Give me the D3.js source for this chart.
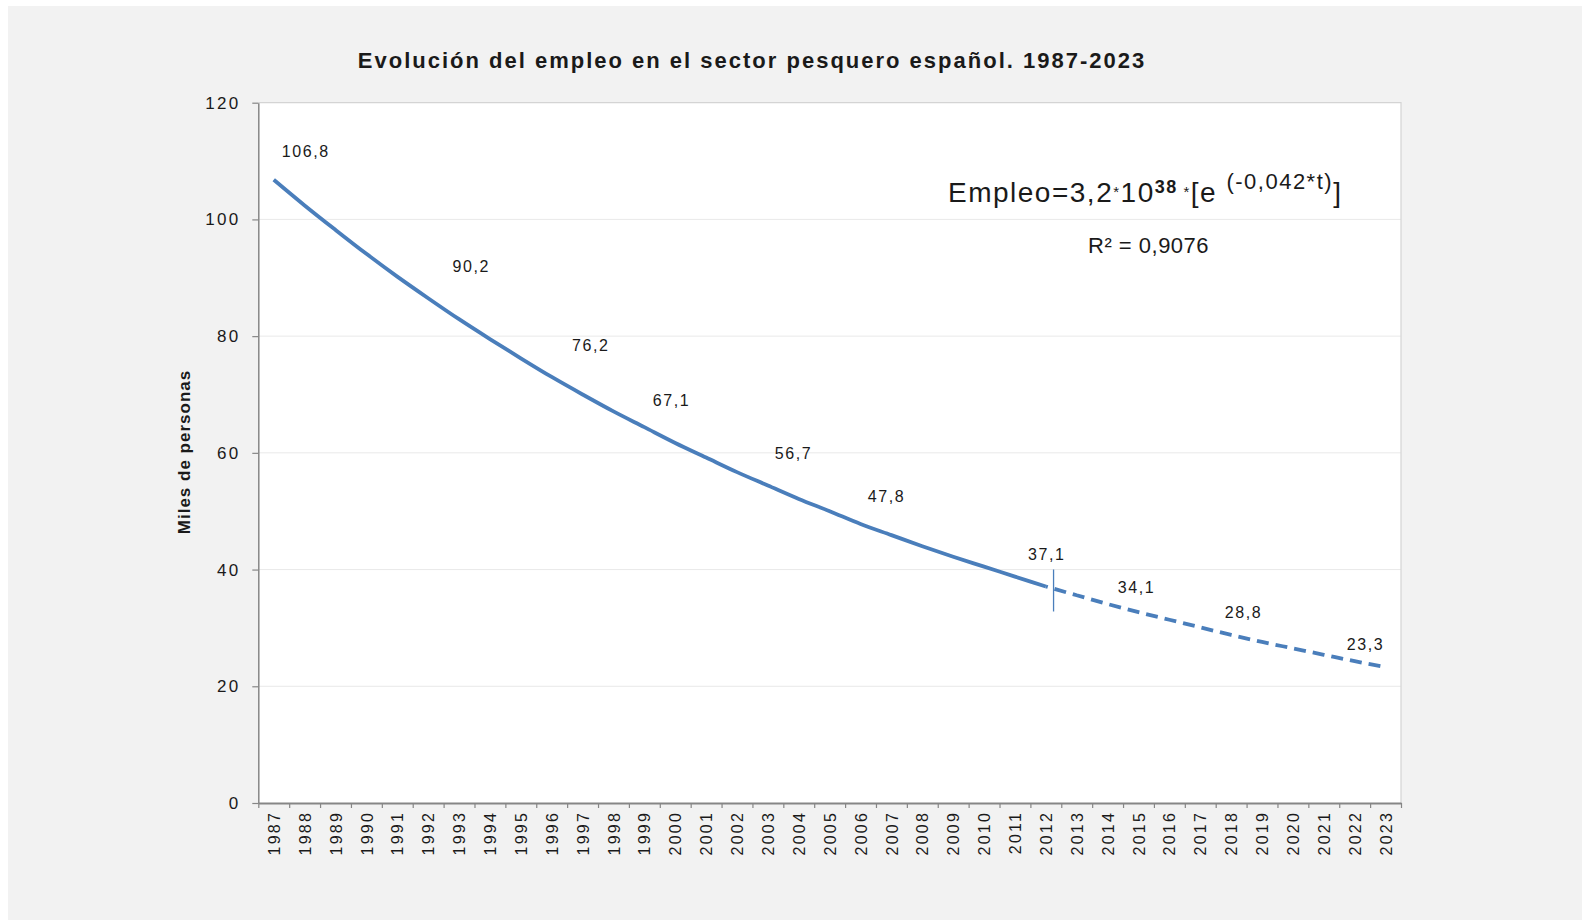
<!DOCTYPE html>
<html>
<head>
<meta charset="utf-8">
<script src="https://cdn.jsdelivr.net/npm/d3@7"></script>
<style>
  body { margin: 0; background: #fff; }
  svg text { font-family: "Liberation Sans", Arial, Helvetica, sans-serif; fill: #1a1a1a; }
</style>
</head>
<body>
<svg id="chart" width="1590" height="920"></svg>
<script>
// Data
const years = [1987, 1988, 1989, 1990, 1991, 1992, 1993, 1994, 1995, 1996, 1997, 1998, 1999,
  2000, 2001, 2002, 2003, 2004, 2005, 2006, 2007, 2008, 2009, 2010, 2011, 2012, 2013, 2014,
  2015, 2016, 2017, 2018, 2019, 2020, 2021, 2022, 2023];

// fitted employment curve (miles de personas)
const employment = [106.8, 102.4, 98.2, 94.1, 90.2, 86.5, 82.9, 79.5, 76.2, 73.0, 70.0, 67.1, 64.4,
  61.7, 59.2, 56.7, 54.4, 52.1, 50.0, 47.8, 45.9, 44.0, 42.2, 40.5, 38.8, 37.1, 35.6, 34.1,
  32.7, 31.4, 30.1, 28.8, 27.6, 26.5, 25.4, 24.3, 23.3];

const lastObservedYear = 2012;   // solid up to here, dashed projection after
const splitYear = 2012.25;       // where the small vertical marker sits

// labelled points
const labelYears = [1987, 1991, 1995, 1998, 2002, 2006, 2012, 2014, 2018, 2023];
const labelValues = [106.8, 90.2, 76.2, 67.1, 56.7, 47.8, 37.1, 34.1, 28.8, 23.3];

const yTicks = [0, 20, 40, 60, 80, 100, 120];

const titleText = "Evolución del empleo en el sector pesquero español. 1987-2023";
const yTitle = "Miles de personas";
const r2Text = "R² = 0,9076";

// Layout
const plotLeft = 258.3, plotRight = 1401, plotTop = 102.7, plotBottom = 803;
const blue = "#4a7ebb";
// label nudges (px) from their point, like Excel's hand-placed data labels
const labelNudge = [[32, -28], [74, -10], [70, -12.6], [58, -10.7], [56.6, -18.8],
  [26, -27.3], [1, -32.2], [29, -16.3], [12.4, -22.2], [-20, -23]];

const svg = d3.select("#chart");

// background panel
svg.append("rect")
  .attr("x", 8).attr("y", 6)
  .attr("width", 1574).attr("height", 914)
  .attr("fill", "#f2f2f2");

// plot area
svg.append("rect")
  .attr("x", plotLeft).attr("y", plotTop)
  .attr("width", plotRight - plotLeft).attr("height", plotBottom - plotTop)
  .attr("fill", "#fff");

// Scales
const x = d3.scaleLinear()
  .domain([years[0] - 0.5, years[years.length - 1] + 0.5])
  .range([plotLeft, plotRight]);

const y = d3.scaleLinear()
  .domain([0, 120])
  .range([plotBottom, plotTop]);

// gridlines
svg.append("g")
  .selectAll("line")
  .data(yTicks.filter(d => d > 0 && d < 120))
  .enter()
  .append("line")
  .attr("x1", plotLeft).attr("x2", plotRight)
  .attr("y1", d => y(d)).attr("y2", d => y(d))
  .attr("stroke", "#e9e9e9")
  .attr("stroke-width", 1);

// top and right border of plot area
svg.append("path")
  .attr("d", `M${plotLeft},${y(120)}H${plotRight}V${plotBottom}`)
  .attr("fill", "none")
  .attr("stroke", "#d4d4d4")
  .attr("stroke-width", 1.2);

// Y axis
const yAxis = svg.append("g")
  .attr("transform", `translate(${plotLeft},0)`)
  .call(d3.axisLeft(y).tickValues(yTicks).tickSize(6).tickSizeOuter(0).tickPadding(12));
yAxis.select(".domain").attr("stroke", "#868686").attr("stroke-width", 1.5);
yAxis.selectAll(".tick line").attr("stroke", "#868686").attr("stroke-width", 1.2);
yAxis.selectAll("text")
  .style("font-size", "17px")
  .style("letter-spacing", "2.2px")
  .attr("fill", "#1a1a1a");

// X axis: boundary ticks
const bounds = years.map(d => d - 0.5).concat([years[years.length - 1] + 0.5]);
const xTickAxis = svg.append("g")
  .attr("transform", `translate(0,${plotBottom})`)
  .call(d3.axisBottom(x).tickValues(bounds).tickSize(5).tickSizeOuter(0).tickFormat(""));
xTickAxis.select(".domain").attr("stroke", "#868686").attr("stroke-width", 2);
xTickAxis.selectAll(".tick line").attr("stroke", "#868686").attr("stroke-width", 1.2);

// X axis: year labels, rotated
const xLabelAxis = svg.append("g")
  .attr("transform", `translate(0,${plotBottom})`)
  .call(d3.axisBottom(x).tickValues(years).tickSize(0).tickFormat(d => d));
xLabelAxis.select(".domain").remove();
xLabelAxis.selectAll("text")
  .attr("transform", "rotate(-90)")
  .attr("x", -8)
  .attr("y", 0)
  .attr("dy", "0.35em")
  .style("text-anchor", "end")
  .style("font-size", "16px")
  .style("letter-spacing", "2.2px")
  .attr("fill", "#1a1a1a");

// Line
const series = years.map((d, i) => ({year: d, value: employment[i]}));
const line = d3.line()
  .x(d => x(d.year))
  .y(d => y(d.value))
  .curve(d3.curveMonotoneX);

svg.append("path")
  .datum(series.filter(d => d.year <= lastObservedYear))
  .attr("d", line)
  .attr("fill", "none")
  .attr("stroke", blue)
  .attr("stroke-width", 3.8);

svg.append("path")
  .datum(series.filter(d => d.year >= lastObservedYear))
  .attr("d", line)
  .attr("fill", "none")
  .attr("stroke", blue)
  .attr("stroke-width", 3.8)
  .attr("stroke-dasharray", "12,7")
  .attr("stroke-dashoffset", -9);

// split marker
const splitValue = employment[years.indexOf(lastObservedYear)];
svg.append("line")
  .attr("x1", x(splitYear)).attr("x2", x(splitYear))
  .attr("y1", y(splitValue) - 17).attr("y2", y(splitValue) + 25)
  .attr("stroke", blue)
  .attr("stroke-width", 1.3);

// data labels
const fmt = d => d3.format(".1f")(d).replace(".", ",");
svg.append("g")
  .selectAll("text")
  .data(labelYears)
  .enter()
  .append("text")
  .attr("x", (d, i) => x(d) + labelNudge[i][0])
  .attr("y", (d, i) => y(labelValues[i]) + labelNudge[i][1])
  .attr("dy", "0.35em")
  .attr("text-anchor", "middle")
  .style("font-size", "16px")
  .style("letter-spacing", "1.6px")
  .text((d, i) => fmt(labelValues[i]));

// Title
svg.append("text")
  .attr("x", 752)
  .attr("y", 68)
  .attr("text-anchor", "middle")
  .style("font-size", "22px")
  .style("font-weight", "bold")
  .style("letter-spacing", "2px")
  .text(titleText);

// Y label
svg.append("text")
  .attr("transform", `translate(190,452)rotate(-90)`)
  .attr("text-anchor", "middle")
  .style("font-size", "17px")
  .style("font-weight", "bold")
  .style("letter-spacing", "1px")
  .text(yTitle);

// trend equation
const eq = svg.append("text")
  .attr("x", 948)
  .attr("y", 202)
  .style("font-size", "28px")
  .style("letter-spacing", "1.5px");
eq.append("tspan").text("Empleo=3,2");
eq.append("tspan").attr("dy", -5).style("font-size", "15px").text("*");
eq.append("tspan").attr("dy", 5).text("10");
eq.append("tspan").attr("dy", -9).style("font-size", "18px").style("font-weight", "bold").text("38");
eq.append("tspan").attr("dy", 4).style("font-size", "15px").text(" *");
eq.append("tspan").attr("dy", 5).text("[e ");
eq.append("tspan").attr("dy", -13).style("font-size", "22px").text("(-0,042*t)");
eq.append("tspan").attr("dy", 13).text("]");

svg.append("text")
  .attr("x", 1088)
  .attr("y", 253)
  .style("font-size", "22px")
  .style("letter-spacing", "0.5px")
  .text(r2Text);
</script>
</body>
</html>
